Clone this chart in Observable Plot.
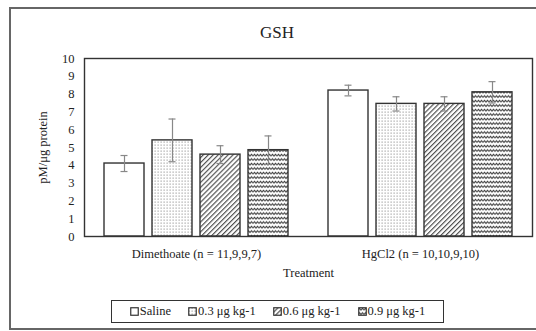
<!DOCTYPE html>
<html><head><meta charset="utf-8">
<script src="https://cdn.jsdelivr.net/npm/d3@7"></script>
<script src="https://cdn.jsdelivr.net/npm/@observablehq/plot@0.6"></script>
<style>
body{margin:0;background:#fff;font-family:"Liberation Serif","Times New Roman",serif;}
#wrap{position:relative;width:536px;height:331px;overflow:hidden;}
#outer{position:absolute;left:9px;top:7px;width:560px;height:323px;border:2px solid #666;box-sizing:border-box;}
#title{position:absolute;top:23px;left:9px;width:536px;text-align:center;font-size:17px;color:#222;line-height:20px;}
#chart{position:absolute;left:0;top:0;}
#legend{position:absolute;left:111px;top:300px;width:333px;height:23px;border:1.5px solid #333;box-sizing:border-box;display:flex;align-items:center;justify-content:center;gap:17px;font-size:12.5px;color:#222;}
#legend span{display:flex;align-items:center;white-space:nowrap;}
#legend svg{margin-right:1px;}
</style></head>
<body>
<svg width="0" height="0" style="position:absolute">
<defs>
<pattern id="pDots" patternUnits="userSpaceOnUse" width="3" height="3">
<rect width="3" height="3" fill="#fff"/><rect x="0.6" y="0.6" width="1" height="1" fill="#777"/>
</pattern>
<pattern id="pDiag" patternUnits="userSpaceOnUse" width="3.5" height="3.5" patternTransform="rotate(45)">
<rect width="3.5" height="3.5" fill="#fff"/><line x1="0.6" y1="0" x2="0.6" y2="3.5" stroke="#444" stroke-width="1.1"/>
</pattern>
<pattern id="pWave" patternUnits="userSpaceOnUse" width="6" height="4.5">
<rect width="6" height="4.5" fill="#fff"/><path d="M0 3 L1.5 1.3 L3 3 L4.5 1.3 L6 3" fill="none" stroke="#333" stroke-width="1"/>
</pattern>
</defs></svg>
<div id="wrap">
<div id="outer"></div>
<div id="title">GSH</div>
<div id="chart"></div>
<div id="legend"></div>
</div>
<script>
const groups = ["Dimethoate (n = 11,9,9,7)", "HgCl2 (n = 10,10,9,10)"];
const doses = ["Saline", "0.3 μg kg-1", "0.6 μg kg-1", "0.9 μg kg-1"];
const dimethoateMean = [4.1, 5.4, 4.6, 4.85];
const dimethoateErr = [0.45, 1.2, 0.5, 0.8];
const hgcl2Mean = [8.2, 7.45, 7.45, 8.1];
const hgcl2Err = [0.3, 0.4, 0.4, 0.6];
const yTicks = [0, 1, 2, 3, 4, 5, 6, 7, 8, 9, 10];
const fills = ["#fff", "url(#pDots)", "url(#pDiag)", "url(#pWave)"];

const data = [];
doses.forEach((d, i) => data.push({group: groups[0], dose: d, mean: dimethoateMean[i], err: dimethoateErr[i]}));
doses.forEach((d, i) => data.push({group: groups[1], dose: d, mean: hgcl2Mean[i], err: hgcl2Err[i]}));

const marks = [
  Plot.barY(data, {fx: "group", x: "dose", y: "mean", fill: "dose", stroke: "#333", strokeWidth: 1.4}),
  Plot.ruleX(data, {fx: "group", x: "dose", y1: d => d.mean - d.err, y2: d => d.mean + d.err, stroke: "#888", strokeWidth: 1.2}),
  Plot.tickY(data, {fx: "group", x: "dose", y: d => d.mean - d.err, stroke: "#888", strokeWidth: 1.2, insetLeft: 16.5, insetRight: 16.5}),
  Plot.tickY(data, {fx: "group", x: "dose", y: d => d.mean + d.err, stroke: "#888", strokeWidth: 1.2, insetLeft: 16.5, insetRight: 16.5}),
  Plot.frame({facet: "super", stroke: "#333", strokeWidth: 1.4})
];

const chart = Plot.plot({
  width: 536, height: 290,
  marginLeft: 83, marginRight: 4, marginTop: 58, marginBottom: 54,
  style: {fontFamily: "'Liberation Serif', 'Times New Roman', serif", fontSize: "12.5px", color: "#222", background: "transparent"},
  fx: {domain: groups, padding: 0, label: "Treatment", tickSize: 0, tickPadding: 13, labelAnchor: "center", labelOffset: 40, labelArrow: "none"},
  x: {domain: doses, paddingInner: 0.175, paddingOuter: 0.4, axis: null},
  y: {domain: [0, 10], ticks: yTicks, tickSize: 0, tickPadding: 10, label: "pM/μg protein", labelAnchor: "center", labelOffset: 46, labelArrow: "none"},
  color: {type: "ordinal", domain: doses, range: fills, legend: false},
  marks
});
document.getElementById("chart").appendChild(chart);

const lg = document.getElementById("legend");
doses.forEach((d, i) => {
  const s = document.createElement("span");
  s.innerHTML = `<svg width="9" height="9"><rect x="0.75" y="0.75" width="7.5" height="7.5" fill="${fills[i]}" stroke="#333" stroke-width="1.2"/></svg>${d}`;
  lg.appendChild(s);
});
</script>
</body></html>
